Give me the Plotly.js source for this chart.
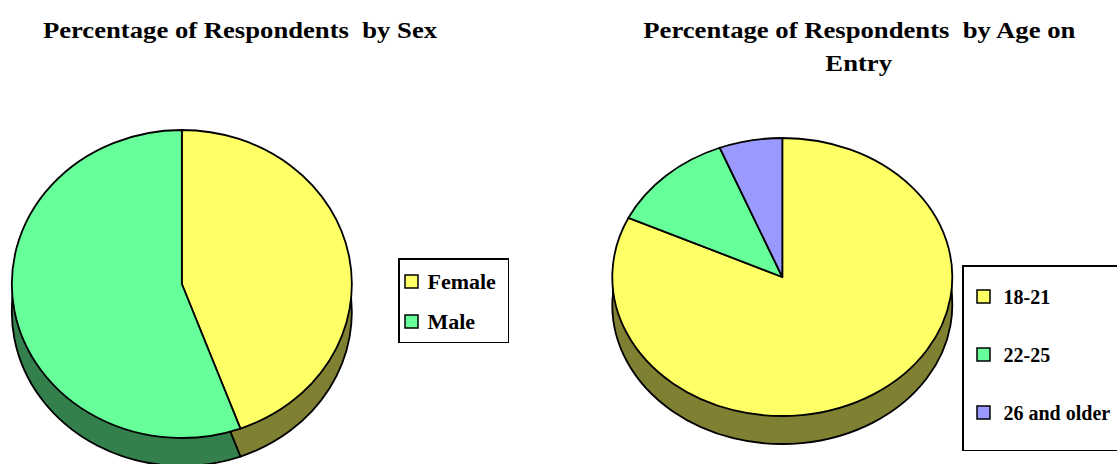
<!DOCTYPE html>
<html><head><meta charset="utf-8">
<script src="https://cdn.plot.ly/plotly-3.0.1.min.js"></script>
<style>html,body{margin:0;padding:0;background:#fff;} #chart{width:1117px;height:464px;}</style>
</head><body><div id="chart"></div>
<script>
// ---- data ----
const sexLabels = ['Female', 'Male'];
const sexValues = [44.4, 55.6];
const sexColors = ['#FFFF66', '#66FF99'];
const sexSideColors = ['#808033', '#33804D'];

const ageLabels = ['18-21', '22-25', '26 and older'];
const ageValues = [82, 12, 6];
const ageColors = ['#FFFF66', '#66FF99', '#9999FF'];
const ageSideColors = ['#808033', '#33804D', '#4D4D80'];

const titleSex = 'Percentage of Respondents\u00A0 by Sex';
const titleAge1 = 'Percentage of Respondents\u00A0 by Age on';
const titleAge2 = 'Entry';

// ---- layout geometry (px) ----
const W = 1117, H = 464;
const FONT = '"Liberation Serif", "Times New Roman", Times, serif';
const RC = 100; // base circle radius before elliptical scaling
const TEXT_STRETCH = 1.16; // the original chart's text is horizontally wide
const pieSpecs = [
  {labels: sexLabels, values: sexValues, top: sexColors, side: sexSideColors, cx: 182, cy: 284, rx: 170, ry: 154, depth: 28},
  {labels: ageLabels, values: ageValues, top: ageColors, side: ageSideColors, cx: 783, cy: 277, rx: 170, ry: 139, depth: 28}
];

const data = [];
const pieGeom = [];
function domainFor(cx, cy) {
  return {x: [(cx - RC) / W, (cx + RC) / W], y: [(H - cy - RC) / H, (H - cy + RC) / H]};
}
function pieTrace(spec, colors, offset, withLine) {
  pieGeom.push({rx: spec.rx, ry: spec.ry});
  return {
    type: 'pie', labels: spec.labels, values: spec.values, sort: false,
    direction: 'clockwise', rotation: 0, textinfo: 'none', showlegend: false,
    hoverinfo: withLine && offset === 0 ? 'label+percent' : 'skip',
    marker: {colors: colors, line: {color: '#000', width: withLine ? 1.8 : 0}},
    domain: domainFor(spec.cx, spec.cy + offset)
  };
}
pieSpecs.forEach(spec => {
  for (let d = 2; d < spec.depth; d += 2) data.push(pieTrace(spec, spec.side, d, false));
  data.push(pieTrace(spec, spec.side, spec.depth, true));
  data.push(pieTrace(spec, spec.top, 0, true));
});

// legend entries
function legendEntries(labels, colors, legendId) {
  labels.forEach((lab, i) => data.push({
    type: 'scatter', x: [null], y: [null], mode: 'markers', name: lab,
    legend: legendId, legendgroup: legendId + i, showlegend: true, hoverinfo: 'skip',
    marker: {symbol: 'square', size: 13, color: colors[i], line: {color: '#000', width: 1.5}}
  }));
}
legendEntries(sexLabels, sexColors, 'legend');
legendEntries(ageLabels, ageColors, 'legend2');

const legendFont = {family: FONT, size: 20, color: '#000', weight: 'bold'};
const titleFont = {family: FONT, size: 23, color: '#000', weight: 'bold'};
const layout = {
  width: W, height: H, margin: {l: 0, r: 0, t: 0, b: 0},
  paper_bgcolor: '#fff', plot_bgcolor: 'rgba(0,0,0,0)',
  font: {family: FONT},
  xaxis: {visible: false, range: [0, 1]}, yaxis: {visible: false, range: [0, 1]},
  legend: {x: 398 / W, y: 1 - 258 / H, xanchor: 'left', yanchor: 'top', bgcolor: '#fff',
    bordercolor: '#000', borderwidth: 1.5, font: legendFont, traceorder: 'grouped', tracegroupgap: 11,
    indentation: -8, title: {text: '\u00A0', font: {family: FONT, size: 2}}},
  legend2: {x: 963 / W, y: 1 - 265 / H, xanchor: 'left', yanchor: 'top', bgcolor: '#fff',
    bordercolor: '#000', borderwidth: 1.5, font: legendFont, traceorder: 'grouped', tracegroupgap: 29,
    indentation: 0, title: {text: '\u00A0', font: {family: FONT, size: 8}}},
  annotations: [
    {text: titleSex, x: 241 / W, y: 1 - 30 / H, xref: 'paper', yref: 'paper', showarrow: false, font: titleFont, xanchor: 'center', yanchor: 'middle'},
    {text: titleAge1, x: 860 / W, y: 1 - 30 / H, xref: 'paper', yref: 'paper', showarrow: false, font: titleFont, xanchor: 'center', yanchor: 'middle'},
    {text: titleAge2, x: 860 / W, y: 1 - 63 / H, xref: 'paper', yref: 'paper', showarrow: false, font: titleFont, xanchor: 'center', yanchor: 'middle'}
  ],
  showlegend: true
};

// horizontal stretch of a text element about an anchor, with optional shift
function stretchText(el, sx, anchor, shift) {
  const bb = el.getBBox();
  const x0 = anchor === 'middle' ? bb.x + bb.width / 2 : bb.x;
  const prev = el.getAttribute('transform') || '';
  el.setAttribute('transform', 'translate(' + (-(shift || 0)) + ',0) ' + prev + ' matrix(' + sx + ',0,0,1,' + (x0 * (1 - sx)) + ',0)');
  return bb.width;
}

Plotly.newPlot('chart', data, layout, {staticPlot: true}).then(gd => {
  // elliptical pies
  const pieCds = gd.calcdata.filter(cd => cd[0] && cd[0].trace && cd[0].trace.type === 'pie');
  const groups = gd.querySelectorAll('.pielayer g.trace');
  groups.forEach((g, i) => {
    const cd0 = pieCds[i] && pieCds[i][0];
    const geo = pieGeom[i];
    if (!cd0 || !geo) return;
    const kx = geo.rx / cd0.r, ky = geo.ry / cd0.r;
    g.setAttribute('transform', 'matrix(' + kx + ',0,0,' + ky + ',' + (cd0.cx * (1 - kx)) + ',' + (cd0.cy * (1 - ky)) + ')');
    g.querySelectorAll('path').forEach(p => { p.style.vectorEffect = 'non-scaling-stroke'; });
  });
  // wide title text
  gd.querySelectorAll('text.annotation-text').forEach(t => stretchText(t, TEXT_STRETCH, 'middle', 0));
  // legends: wide text, closer to symbol, box padding as in the original
  const tweaks = {legend: {shift: 4, extraW: 6, extraH: 0}, legend2: {shift: 9, extraW: 16, extraH: 17}};
  ['legend', 'legend2'].forEach(id => {
    const lg = gd.querySelector('g.' + id);
    if (!lg) return;
    const tw = tweaks[id];
    let maxW = 0;
    lg.querySelectorAll('text.legendtext').forEach(t => { maxW = Math.max(maxW, stretchText(t, 1.1, 'start', tw.shift)); });
    const delta = maxW * 0.1 - tw.shift + tw.extraW;
    const bg = lg.querySelector('rect.bg');
    if (bg) {
      bg.setAttribute('width', (+bg.getAttribute('width')) + delta);
      bg.setAttribute('height', (+bg.getAttribute('height')) + tw.extraH);
    }
    lg.querySelectorAll('[clip-path]').forEach(c => {
      const m = /url\(["']?#([^"')]+)/.exec(c.getAttribute('clip-path'));
      const cp = m && document.getElementById(m[1]);
      if (cp) cp.querySelectorAll('rect').forEach(r => r.setAttribute('width', (+r.getAttribute('width')) + delta + 30));
    });
  });
});
</script>
</body></html>
